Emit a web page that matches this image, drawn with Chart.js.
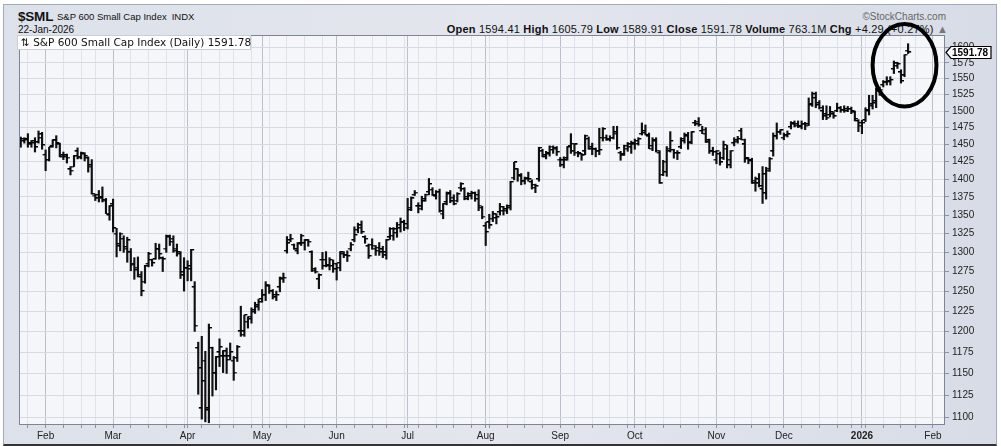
<!DOCTYPE html>
<html><head><meta charset="utf-8">
<script src="https://cdn.jsdelivr.net/npm/chart.js@4.4.1/dist/chart.umd.min.js"></script>
<style>
html,body{margin:0;padding:0;background:#fff;}
#wrap{position:relative;width:1001px;height:446px;overflow:hidden;background:#fff;}
#frame{position:absolute;left:3px;top:4px;width:992px;height:439px;border:1px solid #a3aabb;border-bottom:2px solid #333;background:linear-gradient(90deg,#dde1e9 0%,#e3e6ed 50%,#d8dce6 100%);}
#c{position:absolute;left:0;top:0;z-index:2;}
.t{position:absolute;font-family:'Liberation Sans',Arial,sans-serif;color:#111;white-space:nowrap;z-index:1;font-size:10px;}
#legend{position:absolute;left:17px;top:35px;width:229px;height:13px;background:#fff;border:1px solid #c9ced8;z-index:3;font-family:'DejaVu Sans',Verdana,sans-serif;font-size:10.5px;line-height:13px;color:#111;white-space:nowrap;padding-left:3px;}
</style></head><body>
<div id="wrap">
<div id="frame"></div>
<div class="t" style="left:18px;top:9px;font-size:13.5px;font-weight:bold;letter-spacing:-0.2px;">$SML</div>
<div class="t" style="left:57px;top:11px;font-size:9.5px;">S&amp;P 600 Small Cap Index<span style="margin-left:5px">INDX</span></div>
<div class="t" style="left:18px;top:24px;">22-Jan-2026</div>
<div class="t" style="right:55px;top:11px;color:#666;">©StockCharts.com</div>
<div class="t" style="right:53px;top:23px;font-size:11px;letter-spacing:0.2px;"><b>Open</b> 1594.41 <b>High</b> 1605.79 <b>Low</b> 1589.91 <b>Close</b> 1591.78 <b>Volume</b> 763.1M <b>Chg</b> +4.29 (+0.27%) <span style="color:#777">▲</span></div>
<div id="legend">⇅ S&amp;P 600 Small Cap Index (Daily) 1591.78</div>
<canvas id="c" width="1001" height="446"></canvas>
</div>
<script>
const dates = [
"2025-01-23","2025-01-24","2025-01-27","2025-01-28","2025-01-29","2025-01-30","2025-01-31",
"2025-02-03","2025-02-04","2025-02-05","2025-02-06","2025-02-07","2025-02-10","2025-02-11","2025-02-12","2025-02-13","2025-02-14","2025-02-18","2025-02-19","2025-02-20","2025-02-21","2025-02-24","2025-02-25","2025-02-26","2025-02-27","2025-02-28",
"2025-03-03","2025-03-04","2025-03-05","2025-03-06","2025-03-07","2025-03-10","2025-03-11","2025-03-12","2025-03-13","2025-03-14","2025-03-17","2025-03-18","2025-03-19","2025-03-20","2025-03-21","2025-03-24","2025-03-25","2025-03-26","2025-03-27","2025-03-28","2025-03-31",
"2025-04-01","2025-04-02","2025-04-03","2025-04-04","2025-04-07","2025-04-08","2025-04-09","2025-04-10","2025-04-11","2025-04-14","2025-04-15","2025-04-16","2025-04-17","2025-04-21","2025-04-22","2025-04-23","2025-04-24","2025-04-25","2025-04-28","2025-04-29","2025-04-30",
"2025-05-01","2025-05-02","2025-05-05","2025-05-06","2025-05-07","2025-05-08","2025-05-09","2025-05-12","2025-05-13","2025-05-14","2025-05-15","2025-05-16","2025-05-19","2025-05-20","2025-05-21","2025-05-22","2025-05-23","2025-05-27","2025-05-28","2025-05-29","2025-05-30",
"2025-06-02","2025-06-03","2025-06-04","2025-06-05","2025-06-06","2025-06-09","2025-06-10","2025-06-11","2025-06-12","2025-06-13","2025-06-16","2025-06-17","2025-06-18","2025-06-20","2025-06-23","2025-06-24","2025-06-25","2025-06-26","2025-06-27","2025-06-30",
"2025-07-01","2025-07-02","2025-07-03","2025-07-07","2025-07-08","2025-07-09","2025-07-10","2025-07-11","2025-07-14","2025-07-15","2025-07-16","2025-07-17","2025-07-18","2025-07-21","2025-07-22","2025-07-23","2025-07-24","2025-07-25","2025-07-28","2025-07-29","2025-07-30","2025-07-31",
"2025-08-01","2025-08-04","2025-08-05","2025-08-06","2025-08-07","2025-08-08","2025-08-11","2025-08-12","2025-08-13","2025-08-14","2025-08-15","2025-08-18","2025-08-19","2025-08-20","2025-08-21","2025-08-22","2025-08-25","2025-08-26","2025-08-27","2025-08-28","2025-08-29",
"2025-09-02","2025-09-03","2025-09-04","2025-09-05","2025-09-08","2025-09-09","2025-09-10","2025-09-11","2025-09-12","2025-09-15","2025-09-16","2025-09-17","2025-09-18","2025-09-19","2025-09-22","2025-09-23","2025-09-24","2025-09-25","2025-09-26","2025-09-29","2025-09-30",
"2025-10-01","2025-10-02","2025-10-03","2025-10-06","2025-10-07","2025-10-08","2025-10-09","2025-10-10","2025-10-13","2025-10-14","2025-10-15","2025-10-16","2025-10-17","2025-10-20","2025-10-21","2025-10-22","2025-10-23","2025-10-24","2025-10-27","2025-10-28","2025-10-29","2025-10-30","2025-10-31",
"2025-11-03","2025-11-04","2025-11-05","2025-11-06","2025-11-07","2025-11-10","2025-11-11","2025-11-12","2025-11-13","2025-11-14","2025-11-17","2025-11-18","2025-11-19","2025-11-20","2025-11-21","2025-11-24","2025-11-25","2025-11-26","2025-11-28",
"2025-12-01","2025-12-02","2025-12-03","2025-12-04","2025-12-05","2025-12-08","2025-12-09","2025-12-10","2025-12-11","2025-12-12","2025-12-15","2025-12-16","2025-12-17","2025-12-18","2025-12-19","2025-12-22","2025-12-23","2025-12-24","2025-12-26","2025-12-29","2025-12-30","2025-12-31",
"2026-01-02","2026-01-05","2026-01-06","2026-01-07","2026-01-08","2026-01-09","2026-01-12","2026-01-13","2026-01-14","2026-01-15","2026-01-16","2026-01-20","2026-01-21","2026-01-22"
];
const futureDates = ["2026-01-23","2026-01-26","2026-01-27","2026-01-28","2026-01-29","2026-01-30","2026-02-02","2026-02-03","2026-02-04","2026-02-05","2026-02-06"];

const openV = [
1452,1455,1458,1450,1455,1453,1465,
1435,1428,1448,1457,1450,1434,1434,1414,1418,1440,
1432,1436,1430,1420,1377,1378,1375,1370,1350,1365,
1325,1308,1318,1305,1300,1285,1280,1268,1262,1285,
1290,1291,1305,1292,1305,1320,1318,1302,1298,1270,
1280,1278,1255,1180,1110,1165,1110,1180,1150,1175,
1170,1170,1170,1165,1168,1200,1200,1212,1215,1226,
1232,1240,1245,1256,1250,1242,1255,1265,1302,1316,
1310,1302,1312,1312,1316,1300,1278,1265,1290,1290,
1282,1282,1278,1286,1298,1296,1305,1316,1330,1336,
1320,1308,1310,1305,1306,1304,1296,1320,1322,1326,
1332,1340,1333,1360,1378,1362,1362,1372,1382,1385,
1376,1382,1352,1368,1380,1374,1370,1388,1386,1375,
1376,1380,1378,1360,1335,1340,1345,1346,1354,1356,
1356,1362,1402,1414,1404,1398,1402,1396,1388,1400,
1440,1434,1436,1442,1444,1428,1420,1430,1448,1440,
1438,1436,1440,1458,1446,1444,1440,1460,1460,1457,
1460,1466,1438,1436,1444,1446,1450,1451,1466,1470,
1462,1448,1456,1438,1406,1410,1440,1442,1438,1446,
1455,1462,1454,1482,1484,1470,1466,1456,1440,1428,
1436,1430,1444,1420,1452,1456,1470,1450,1430,1426,
1398,1400,1386,1380,1415,1440,1462,1468,1460,1464,
1476,1480,1480,1476,1480,1480,1510,1520,1512,1500,
1495,1494,1495,1500,1504,1502,1500,1503,1498,1485,
1482,1486,1500,1508,1515,1530,1540,1544,1546,1565,
1570,1560,1555,1594.41
];
const highV = [
1461,1460,1466,1456,1460,1470,1468,
1442,1446,1457,1463,1452,1439,1436,1418,1434,1445,
1439,1438,1432,1428,1379,1384,1389,1373,1363,1372,
1332,1326,1322,1320,1305,1293,1294,1275,1283,1300,
1291,1312,1311,1294,1323,1323,1322,1311,1301,1293,
1289,1304,1262,1187,1194,1176,1209,1181,1170,1191,
1177,1180,1186,1170,1183,1231,1220,1218,1229,1236,
1240,1252,1262,1258,1252,1250,1268,1273,1321,1324,
1311,1313,1324,1317,1317,1302,1280,1272,1300,1301,
1293,1290,1286,1301,1301,1302,1313,1334,1339,1342,
1322,1311,1318,1309,1313,1308,1317,1333,1333,1340,
1346,1343,1373,1375,1384,1367,1376,1379,1401,1388,
1384,1386,1366,1382,1384,1378,1381,1395,1388,1381,
1383,1382,1385,1362,1340,1351,1355,1352,1366,1362,
1364,1397,1424,1415,1408,1403,1410,1399,1393,1446,
1443,1440,1448,1448,1447,1431,1432,1447,1466,1451,
1440,1437,1464,1461,1452,1445,1474,1475,1464,1463,
1477,1477,1440,1449,1453,1455,1458,1460,1482,1479,
1467,1460,1460,1441,1427,1447,1469,1443,1441,1460,
1467,1468,1469,1486,1490,1477,1475,1458,1446,1441,
1439,1455,1449,1441,1460,1462,1474,1458,1431,1430,
1403,1408,1418,1417,1431,1467,1482,1472,1467,1470,
1484,1485,1485,1485,1483,1520,1529,1529,1516,1508,
1508,1507,1499,1512,1507,1508,1507,1506,1500,1487,
1486,1505,1524,1524,1535,1537,1547,1553,1553,1578,
1576,1564,1588,1605.79
];
const lowV = [
1446,1452,1446,1446,1439,1452,1443,
1412,1426,1446,1445,1432,1428,1423,1406,1418,1429,
1429,1426,1410,1379,1370,1368,1368,1352,1343,1327,
1294,1302,1300,1287,1276,1265,1268,1244,1260,1281,
1282,1291,1291,1275,1300,1309,1300,1295,1266,1250,
1263,1263,1200,1126,1098,1095,1094,1124,1131,1158,
1151,1150,1166,1142,1164,1194,1194,1204,1210,1222,
1226,1236,1238,1247,1240,1238,1249,1261,1299,1314,
1304,1298,1309,1303,1308,1275,1273,1253,1278,1281,
1277,1274,1264,1276,1293,1288,1302,1314,1326,1325,
1312,1292,1304,1296,1296,1293,1291,1317,1316,1320,
1327,1329,1331,1356,1377,1353,1357,1369,1378,1377,
1372,1354,1345,1364,1367,1364,1368,1383,1371,1371,
1372,1369,1356,1345,1309,1332,1341,1338,1350,1350,
1352,1357,1399,1397,1392,1393,1397,1386,1381,1397,
1432,1429,1433,1437,1434,1418,1416,1427,1437,1434,
1432,1427,1435,1443,1435,1432,1435,1455,1456,1455,
1458,1443,1427,1434,1440,1437,1443,1449,1464,1464,
1444,1441,1439,1394,1405,1404,1439,1430,1428,1444,
1452,1443,1451,1478,1477,1466,1453,1437,1434,1422,
1420,1428,1416,1416,1448,1452,1457,1424,1422,1394,
1383,1389,1366,1372,1411,1433,1458,1465,1457,1461,
1473,1476,1475,1473,1472,1478,1507,1505,1503,1487,
1487,1491,1489,1499,1498,1498,1499,1496,1485,1469,
1466,1484,1494,1503,1505,1524,1537,1540,1540,1558,
1566,1543,1553,1589.91
];
const closeV = [
1458,1457,1452,1452,1446,1460,1449,
1428,1446,1456,1452,1432,1432,1431,1412,1433,1431,
1438,1433,1418,1379,1373,1373,1371,1352,1362,1332,
1311,1325,1307,1316,1284,1277,1271,1250,1282,1298,
1286,1304,1298,1291,1322,1314,1305,1300,1274,1279,
1282,1303,1207,1156,1141,1108,1204,1151,1169,1181,
1176,1166,1175,1151,1181,1196,1220,1218,1224,1230,
1236,1245,1258,1250,1245,1245,1267,1267,1312,1318,
1304,1311,1322,1316,1314,1276,1275,1270,1282,1283,
1290,1285,1280,1300,1296,1295,1310,1323,1333,1327,
1318,1295,1309,1302,1300,1300,1316,1331,1331,1337,
1340,1338,1357,1373,1381,1359,1369,1378,1393,1378,
1382,1355,1365,1379,1369,1365,1379,1393,1372,1379,
1380,1372,1363,1348,1327,1336,1351,1347,1361,1358,
1360,1396,1424,1406,1397,1400,1400,1392,1390,1445,
1432,1437,1447,1445,1439,1427,1427,1446,1451,1450,
1437,1434,1463,1443,1443,1441,1442,1473,1458,1460,
1468,1445,1434,1448,1450,1452,1455,1458,1467,1464,
1444,1455,1441,1394,1425,1444,1455,1438,1437,1458,
1464,1452,1468,1480,1479,1472,1453,1440,1439,1441,
1424,1449,1428,1441,1454,1458,1457,1429,1427,1394,
1394,1390,1407,1412,1429,1463,1469,1471,1463,1465,
1482,1478,1477,1481,1478,1509,1526,1509,1505,1492,
1490,1498,1492,1505,1501,1503,1503,1500,1488,1478,
1482,1501,1510,1512,1532,1533,1545,1545,1548,1574,
1573,1546,1588,1591.78
];
const yTickValues = [1100,1125,1150,1175,1200,1225,1250,1275,1300,1325,1350,1375,1400,1425,1450,1475,1500,1525,1550,1575,1600];
const monthNames = ["Jan","Feb","Mar","Apr","May","Jun","Jul","Aug","Sep","Oct","Nov","Dec"];
// annotation ellipse (in data units): centre index, half-width in bars, top/bottom value
const ringCenterIndex = 249, ringHalfBars = 9, ringTop = 1638, ringBottom = 1507;

const allDates = dates.concat(futureDates);
const weekTicks = [], monthLabel = {}, monthSet = new Set();
let prevWeek = null, prevMonth = null;
allDates.forEach((d, k) => {
  const t = Date.parse(d + "T00:00:00Z") / 86400000;
  const wk = Math.floor((t + 3) / 7);
  const mo = d.slice(0, 7);
  if (k > 0 && wk !== prevWeek) weekTicks.push(k);
  if (k > 0 && mo !== prevMonth) {
    monthSet.add(k);
    if (!weekTicks.includes(k)) weekTicks.push(k);
    const m = parseInt(d.slice(5, 7), 10) - 1;
    monthLabel[k] = m === 0 ? d.slice(0, 4) : monthNames[m];
  }
  prevWeek = wk; prevMonth = mo;
});
weekTicks.sort((a, b) => a - b);

function tickImg(side) {
  const c = document.createElement('canvas');
  c.width = 8; c.height = 2;
  const g = c.getContext('2d');
  g.fillStyle = '#000';
  if (side === 'L') g.fillRect(1, 0, 3, 1.4); else g.fillRect(4, 0, 3, 1.4);
  return c;
}
const openImg = tickImg('L'), closeImg = tickImg('R');

const bgPlugin = {
  id: 'bg',
  beforeDraw(chart) {
    const a = chart.chartArea, ctx = chart.ctx;
    ctx.save();
    ctx.fillStyle = '#f5f6fa';
    ctx.fillRect(a.left, a.top, a.right - a.left, a.bottom - a.top);
    ctx.restore();
  },
  afterDraw(chart) {
    const a = chart.chartArea, ctx = chart.ctx, xs = chart.scales.x, ys = chart.scales.y;
    ctx.save();
    ctx.strokeStyle = '#7d8597'; ctx.lineWidth = 1;
    ctx.strokeRect(a.left + 0.5, a.top + 0.5, a.right - a.left - 1, a.bottom - a.top - 1);
    // price tag
    const last = closeV[closeV.length - 1];
    const py = Math.round(ys.getPixelForValue(last)) + 0.5;
    const x0 = a.right + 1, w = 45, h = 12;
    ctx.beginPath();
    ctx.moveTo(x0, py);
    ctx.lineTo(x0 + 5, py - h / 2);
    ctx.lineTo(x0 + w, py - h / 2);
    ctx.lineTo(x0 + w, py + h / 2);
    ctx.lineTo(x0 + 5, py + h / 2);
    ctx.closePath();
    ctx.fillStyle = '#fff'; ctx.fill();
    ctx.strokeStyle = '#000'; ctx.lineWidth = 1.2; ctx.stroke();
    ctx.fillStyle = '#000';
    ctx.font = 'bold 10px "Liberation Sans", Arial, sans-serif';
    ctx.textBaseline = 'middle'; ctx.textAlign = 'left';
    ctx.fillText(last.toFixed(2), x0 + 6, py + 0.5);
    // annotation ring
    const cx = xs.getPixelForValue(ringCenterIndex);
    const rx = xs.getPixelForValue(ringCenterIndex + ringHalfBars) - cx;
    const top = ys.getPixelForValue(ringTop), bot = ys.getPixelForValue(ringBottom);
    ctx.beginPath();
    ctx.ellipse(cx, (top + bot) / 2, rx, (bot - top) / 2, 0, 0, Math.PI * 2);
    ctx.strokeStyle = '#000'; ctx.lineWidth = 4; ctx.stroke();
    ctx.restore();
  }
};

const FONT = "'Liberation Sans', Arial, sans-serif";
new Chart(document.getElementById('c'), {
  type: 'bar',
  data: {
    datasets: [
      { type: 'bar', data: dates.map((d, k) => ({ x: k, y: [lowV[k], highV[k]] })),
        backgroundColor: '#111', borderWidth: 0, barThickness: 1.5, grouped: false, order: 1 },
      { type: 'scatter', data: dates.map((d, k) => ({ x: k, y: openV[k] })),
        pointStyle: openImg, pointRadius: 3, order: 0 },
      { type: 'scatter', data: dates.map((d, k) => ({ x: k, y: closeV[k] })),
        pointStyle: closeImg, pointRadius: 3, order: 0 }
    ]
  },
  options: {
    responsive: false, animation: false, devicePixelRatio: 1,
    layout: { padding: { left: 19, top: 35, right: 0, bottom: 0 } },
    plugins: { legend: { display: false }, tooltip: { enabled: false } },
    events: [],
    scales: {
      x: {
        type: 'linear', min: -0.5, max: 260.4, offset: false,
        afterFit(ax) { ax.height = 21; },
        afterBuildTicks(ax) { ax.ticks = weekTicks.map(v => ({ value: v })); },
        grid: {
          offset: false, tickLength: 3,
          color: ctx => (ctx.tick && monthSet.has(ctx.tick.value)) ? '#b9c0cc' : '#dfe2ea',
          tickColor: '#8c93a3'
        },
        border: { display: false },
        ticks: {
          autoSkip: false, maxRotation: 0, padding: 2, color: '#222',
          callback: v => monthLabel[v] || '',
          font: ctx => ({ family: FONT, size: 10, weight: (ctx.tick && ctx.tick.label === '2026') ? 'bold' : 'normal' })
        }
      },
      y: {
        type: 'logarithmic', position: 'right', min: 1091.5, max: 1620,
        afterFit(ax) { ax.width = 56; },
        afterBuildTicks(ax) { ax.ticks = yTickValues.map(v => ({ value: v })); },
        grid: { color: '#d6dae3', tickLength: 4, tickColor: '#8c93a3' },
        border: { display: false },
        ticks: { color: '#222', padding: 3, font: { family: FONT, size: 10 }, callback: v => String(v) }
      }
    }
  },
  plugins: [bgPlugin]
});
</script>
</body></html>
